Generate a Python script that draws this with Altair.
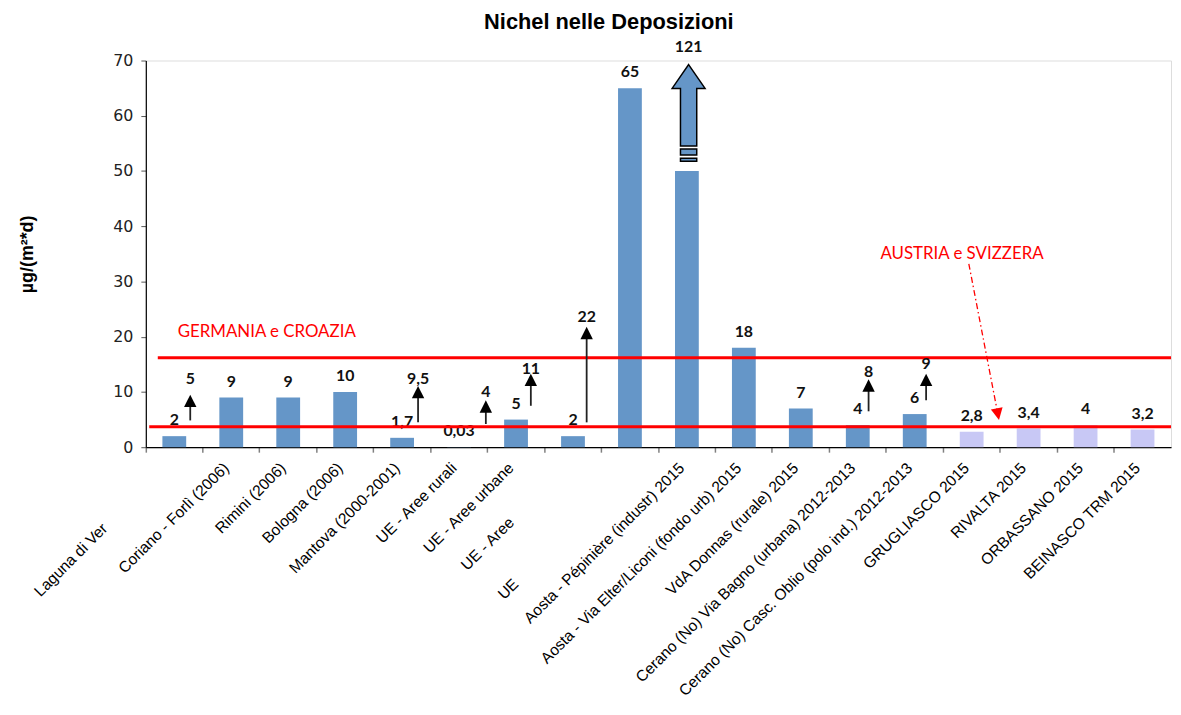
import altair as alt
import pandas as pd

# ---------------- data ----------------
categories = [
    "Laguna di Ver", "Coriano - Forlì (2006)", "Rimini (2006)", "Bologna (2006)",
    "Mantova (2000-2001)", "UE - Aree rurali", "UE - Aree urbane", "UE - Aree", "UE",
    "Aosta - Pépinière (industr) 2015", "Aosta - Via Elter/Liconi (fondo urb) 2015",
    "VdA Donnas (rurale) 2015", "Cerano (No) Via Bagno (urbana) 2012-2013",
    "Cerano (No) Casc. Oblio (polo ind.) 2012-2013", "GRUGLIASCO 2015", "RIVALTA 2015",
    "ORBASSANO 2015", "BEINASCO TRM 2015",
]
values = [2, 9, 9, 10, 1.7, 0.03, 5, 2, 65, 50, 18, 7, 4, 6, 2.8, 3.4, 4, 3.2]
value_labels = ["2", "9", "9", "10", "1,7", "0,03", "5", "2", "65", "", "18", "7",
                "4", "6", "2,8", "3,4", "4", "3,2"]
groups = ["letteratura"] * 14 + ["torino"] * 4

# reference limits (red lines)
limit_values = [16.2, 3.7]
limit_names = ["GERMANIA e CROAZIA", "AUSTRIA e SVIZZERA"]
limit_start = [0.21, 0.06]          # in category units
germany_label_pos = [0.56, 20.8]     # (x in category units, y)
austria_label_pos = [14.33, 35.0]
austria_arrow_from = [14.45, 33.2]
austria_arrow_tip = [14.98, 4.9]

# range arrows (min -> max)
arrow_x = [0.78, 4.78, 5.97, 6.76, 7.74, 12.69, 13.70]
arrow_base = [4.85, 4.5, 4.2, 7.5, 4.5, 6.5, 8.5]
arrow_tip = [9.5, 11.1, 8.5, 13.3, 21.8, 12.3, 13.3]
arrow_labels = ["5", "9,5", "4", "11", "22", "8", "9"]
arrow_label_y = [12.3, 12.3, 10.0, 14.1, 23.5, 13.6, 15.0]

# out-of-scale value (block arrow)
big_arrow_x = 9.53
big_arrow_center = 61.9
big_arrow_label = "121"
big_arrow_label_y = 72.4

# ---------------- style ----------------
W, H = 1034, 390
BLUE = "#6596C8"
LILAC = "#C8C8F5"
RED = "#FF0000"
HEAD = "M0,-1L1,1L-1,1Z"
HEAD_SIZE = 156
HEAD_HALF = 1.12  # half head height in data units
BIG_SHAPE = ("M0,-1L0.405,-0.415L0.2,-0.415L0.2,1L-0.2,1L-0.2,-0.415L-0.405,-0.415Z"
             "M-0.2,1.076L0.2,1.076L0.2,1.222L-0.2,1.222Z"
             "M-0.2,1.305L0.2,1.305L0.2,1.378L-0.2,1.378Z")
Y_TITLE = "µg/(m²*d)"

bars_df = pd.DataFrame({"cat": categories, "value": values,
                        "label": value_labels, "group": groups})
lim_df = pd.DataFrame({"y": limit_values, "xs": limit_start, "xe": [18, 18]})
arr_df = pd.DataFrame({"x": arrow_x, "base": arrow_base, "tip": arrow_tip,
                       "label": arrow_labels, "ly": arrow_label_y})
arr_df["headc"] = arr_df["tip"] - HEAD_HALF
ger_df = pd.DataFrame({"x": [germany_label_pos[0]], "y": [germany_label_pos[1]],
                       "t": [limit_names[0]]})
aus_df = pd.DataFrame({"x": [austria_label_pos[0]], "y": [austria_label_pos[1]],
                       "t": [limit_names[1]]})
aus_arrow_df = pd.DataFrame({"x": [austria_arrow_from[0]], "y": [austria_arrow_from[1]],
                             "x2": [austria_arrow_tip[0] - 0.02],
                             "y2": [austria_arrow_tip[1] + 1.08]})
big_df = pd.DataFrame({"x": [big_arrow_x], "y": [big_arrow_center],
                       "ly": [big_arrow_label_y], "t": [big_arrow_label]})

xq_scale = alt.Scale(domain=[0, 18], nice=False, zero=False)
y_scale = alt.Scale(domain=[0, 70], nice=False, zero=True)
y_axis = alt.Axis(values=[0, 10, 20, 30, 40, 50, 60, 70], tickSize=5, tickColor="#555555",
                  domainColor="black", domainWidth=1.2, grid=False,
                  labelFont="DejaVu Sans", labelFontSize=16, labelColor="#222222",
                  labelPadding=8, titleFont="Liberation Sans", titleFontSize=18,
                  titleFontWeight="bold", titleColor="black", titlePadding=77)


def XQ(field):
    return alt.X(f"{field}:Q", scale=xq_scale, axis=None)


def YQ(field):
    return alt.Y(f"{field}:Q", scale=y_scale, axis=y_axis, title=Y_TITLE)


band_scale = alt.Scale(paddingInner=0, paddingOuter=0)
x_band = alt.X(
    "cat:N", sort=None, title=None, scale=band_scale,
    axis=alt.Axis(
        bandPosition=0, tickSize=5, tickColor="#808080", tickWidth=1.5,
        domainColor="black", domainWidth=1.2,
        labelAngle=-45, labelAlign="right", labelBaseline="middle",
        labelFont="Liberation Sans", labelFontSize=15.7, labelColor="black",
        labelLimit=0, labelOverlap=False,
        labelOffset={"condition": [
            {"test": "datum.value == 'Laguna di Ver'", "value": -70},
            {"test": "datum.value == 'UE - Aree'", "value": -62},
            {"test": "datum.value == 'UE'", "value": -115}], "value": -5},
        labelPadding={"condition": [
            {"test": "datum.value == 'Laguna di Ver'", "value": 74},
            {"test": "datum.value == 'UE - Aree'", "value": 68},
            {"test": "datum.value == 'UE'", "value": 130}], "value": 13},
    ),
)
x_band_noaxis = alt.X("cat:N", sort=None, title=None, scale=band_scale, axis=None)

bars = alt.Chart(bars_df).mark_bar(size=24).encode(
    x=x_band, y=YQ("value"),
    color=alt.Color("group:N", scale=alt.Scale(domain=["letteratura", "torino"],
                                               range=[BLUE, LILAC]), legend=None),
)
bar_labels = alt.Chart(bars_df).mark_text(
    font="Lato", fontWeight="bold", fontSize=16, baseline="middle", dy=-16, color="#111111"
).encode(x=x_band_noaxis, y=YQ("value"), text="label:N")

limits = alt.Chart(lim_df).mark_rule(color=RED, strokeWidth=3).encode(
    x=XQ("xs"), x2="xe:Q", y=YQ("y"))

ger_text = alt.Chart(ger_df).mark_text(
    font="Lato", fontSize=17, color=RED, align="left", baseline="middle"
).encode(x=XQ("x"), y=YQ("y"), text="t:N")
aus_text = alt.Chart(aus_df).mark_text(
    font="Lato", fontSize=17, color=RED, align="center", baseline="middle"
).encode(x=XQ("x"), y=YQ("y"), text="t:N")

aus_line = alt.Chart(aus_arrow_df).mark_rule(
    color=RED, strokeWidth=1.3, strokeDash=[6, 3, 1.5, 3]
).encode(x=XQ("x"), x2="x2:Q", y=YQ("y"), y2="y2:Q")
aus_head = alt.Chart(aus_arrow_df).mark_point(
    shape=HEAD, size=144, filled=True, color=RED, opacity=1, angle=169
).encode(x=XQ("x2"), y=YQ("y2"))

shafts = alt.Chart(arr_df).mark_rule(color="#222222", strokeWidth=1.8).encode(
    x=XQ("x"), y=YQ("base"), y2="headc:Q")
heads = alt.Chart(arr_df).mark_point(
    shape=HEAD, size=HEAD_SIZE, filled=True, color="black", opacity=1
).encode(x=XQ("x"), y=YQ("headc"))
arrow_text = alt.Chart(arr_df).mark_text(
    font="Lato", fontWeight="bold", fontSize=16, baseline="middle", color="#111111"
).encode(x=XQ("x"), y=YQ("ly"), text="label:N")

big = alt.Chart(big_df).mark_point(
    shape=BIG_SHAPE, size=6724, fill=BLUE, stroke="black", strokeWidth=1.5,
    opacity=1, fillOpacity=1, strokeOpacity=1
).encode(x=XQ("x"), y=YQ("y"))
big_text = alt.Chart(big_df).mark_text(
    font="Lato", fontWeight="bold", fontSize=16, baseline="middle", color="#111111"
).encode(x=XQ("x"), y=YQ("ly"), text="t:N")

chart = alt.layer(
    bars, bar_labels, limits, ger_text, aus_text, aus_line, aus_head,
    shafts, heads, arrow_text, big, big_text,
).resolve_scale(x="independent").resolve_axis(y="shared").properties(
    width=W, height=H,
    title=alt.TitleParams("Nichel nelle Deposizioni", font="Liberation Sans", fontSize=22,
                          fontWeight="bold", color="black", anchor="middle", dx=-50,
                          offset=5),
    padding={"left": 10, "top": 0, "right": 0, "bottom": 0},
).configure_view(stroke=None).configure(background="white")

chart.save("out.html", embed_options={"renderer": "svg", "actions": False})
